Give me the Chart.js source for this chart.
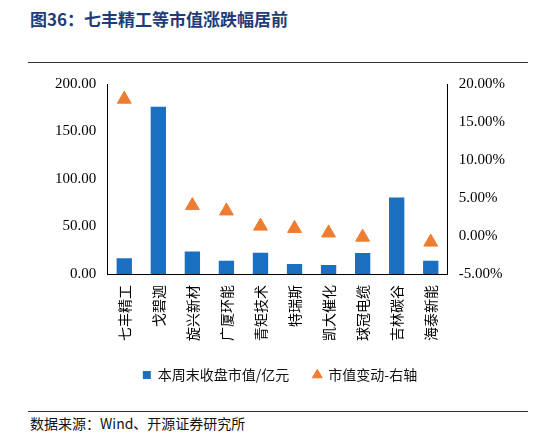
<!DOCTYPE html><html><head><meta charset="utf-8">
<script src="https://cdn.jsdelivr.net/npm/chart.js@4"></script>
<style>body{margin:0;background:#fff;width:546px;height:438px;position:relative;font-family:"Noto Sans CJK SC";}
#t{position:absolute;left:30px;top:6px;font-size:17px;font-weight:bold;color:#1f3c78;}
#l1{position:absolute;left:28px;top:62px;width:500px;height:1px;background:#333;}
#l2{position:absolute;left:28px;top:411px;width:500px;height:1px;background:#333;}
#s{position:absolute;left:30px;top:413px;font-size:14px;color:#111;}
#c{position:absolute;left:0;top:70px;}</style></head><body>
<div id="t">图36：七丰精工等市值涨跌幅居前</div><div id="l1"></div>
<div id="c"><canvas id="cv" width="546" height="322"></canvas></div>
<div id="l2"></div><div id="s">数据来源：Wind、开源证券研究所</div>
<script>
const categories=["七丰精工","戈碧迦","旋兴新材","广厦环能","青矩技术","特瑞斯","凯大催化","球冠电缆","吉林碳谷","海泰新能"];
const marketCap=[16.6,176,23.7,14,22.5,10.6,9.5,22,80.5,14];
const change=[18.0,7.0,4.0,3.3,1.3,1.0,0.4,-0.15,-0.6,-0.8];
const serif="'Liberation Serif'";
new Chart(document.getElementById('cv'),{data:{labels:categories,datasets:[
{type:'bar',label:'本周末收盘市值/亿元',data:marketCap,backgroundColor:'#1a6fc0',yAxisID:'y',barPercentage:0.45,categoryPercentage:1,pointStyle:'rect'},
{type:'scatter',label:'市值变动-右轴',data:change,yAxisID:'y1',pointStyle:'triangle',pointRadius:8,backgroundColor:'#ee7d31',borderColor:'#ee7d31'}]},
options:{responsive:false,animation:false,layout:{padding:{left:52,right:38,top:14,bottom:0}},
plugins:{legend:{position:'bottom',labels:{usePointStyle:true,boxWidth:8,boxHeight:8,font:{size:14,family:"Noto Sans CJK SC"},color:'#111',padding:24}},tooltip:{enabled:false}},
scales:{x:{type:'category',grid:{display:false},border:{color:'#000'},ticks:{minRotation:90,maxRotation:90,color:'#000',font:{size:14,family:"Noto Sans CJK SC"}}},
y:{min:0,max:200,position:'left',grid:{display:false},border:{color:'#000'},ticks:{stepSize:50,color:'#000',font:{size:15,family:serif},callback:v=>v.toFixed(2)}},
y1:{min:-5,max:20,position:'right',grid:{display:false},border:{color:'#000'},ticks:{stepSize:5,color:'#000',font:{size:15,family:serif},callback:v=>v.toFixed(2)+'%'}}}}});
</script></body></html>
